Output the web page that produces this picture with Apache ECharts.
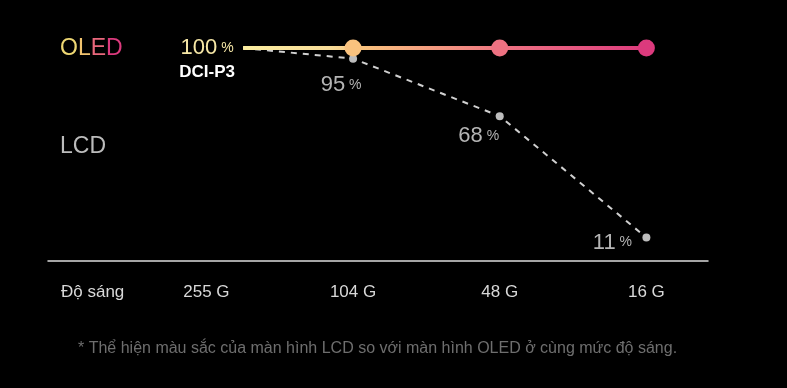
<!DOCTYPE html>
<html><head><meta charset="utf-8">
<script src="https://cdn.jsdelivr.net/npm/echarts@6/dist/echarts.min.js"></script>
<style>html,body{margin:0;padding:0;background:#000}#c{width:787px;height:388px}</style>
</head><body><div id="c"></div>
<script>
// Data
const categories = ['255 G', '104 G', '48 G', '16 G'];
const categoryX = [0, 1, 2, 3];
const pointX = [0.25, 1, 2, 3];            // line starts a quarter step after the 255 G label
const oledValues = [100, 100, 100, 100];
const lcdValues = [100, 95, 68, 11];
const axisTitle = 'Độ sáng';
const footnote = '* Thể hiện màu sắc của màn hình LCD so với màn hình OLED ở cùng mức độ sáng.';

// Styles (kept out of data)
const oledMarkerColors = [null, '#f9c27e', '#ee7282', '#dc3a7d'];
const lcdLabelOffsets = [null, [-12, 26], [-21, 20], [-34, 5]];
const font = 'Liberation Sans, Arial, sans-serif';

const chart = echarts.init(document.getElementById('c'));

const oledData = pointX.map((x, i) => {
  const item = { value: [x, oledValues[i]] };
  if (i === 0) {
    item.symbolSize = 0;
    item.label = {
      show: true, position: 'inside', offset: [-36, 12],
      formatter: '{v|' + oledValues[i] + '}{p| %}\n{d|DCI-P3}',
      rich: {
        v: { fontSize: 22, color: '#f6e7a6', fontFamily: font, lineHeight: 24, align: 'center' },
        p: { fontSize: 14, color: '#f6e7a6', fontFamily: font, lineHeight: 24, align: 'center' },
        d: { fontSize: 17, color: '#ffffff', fontWeight: 'bold', fontFamily: font, lineHeight: 24, align: 'center' }
      }
    };
  } else {
    item.itemStyle = { color: oledMarkerColors[i] };
  }
  return item;
});

const lcdData = pointX.map((x, i) => {
  const item = { value: [x, lcdValues[i]] };
  if (i === 0) {
    item.symbolSize = 0;
  } else {
    item.label = {
      show: true, position: 'inside', offset: lcdLabelOffsets[i],
      formatter: '{v|' + lcdValues[i] + '}{p| %}',
      rich: {
        v: { fontSize: 22, color: '#b4b4b4', fontFamily: font },
        p: { fontSize: 14, color: '#b4b4b4', fontFamily: font }
      }
    };
  }
  return item;
});

chart.setOption({
  backgroundColor: '#000',
  animation: false,
  grid: { left: 48, right: 79, top: 48, bottom: 127 },
  xAxis: {
    type: 'value', min: -1.08, max: 3.42,
    splitLine: { show: false },
    axisLine: { show: true, onZero: false, lineStyle: { color: '#dcdcdc', width: 1.5 } },
    axisTick: { show: false },
    axisLabel: {
      customValues: categoryX,
      formatter: v => categories[Math.round(v)] || '',
      color: '#d8d8d8', fontSize: 17, fontFamily: font, margin: 23
    }
  },
  yAxis: {
    type: 'value', min: 0, max: 100, show: false, splitLine: { show: false }
  },
  series: [
    {
      type: 'line', data: lcdData, z: 2, clip: false,
      symbol: 'circle', symbolSize: 8,
      itemStyle: { color: '#bdbdbd' },
      lineStyle: { color: '#d0d0d0', width: 2, type: [6, 6] }
    },
    {
      type: 'line', data: oledData, z: 3, clip: false,
      symbol: 'circle', symbolSize: 17,
      lineStyle: {
        width: 4,
        color: new echarts.graphic.LinearGradient(0, 0, 1, 0, [
          { offset: 0, color: '#fbeea0' },
          { offset: 0.22, color: '#f8dc98' },
          { offset: 0.3, color: '#f9c27e' },
          { offset: 0.65, color: '#ee7282' },
          { offset: 1, color: '#dc3a7d' }
        ])
      }
    }
  ],
  graphic: [
    {
      type: 'text', left: 60, top: 37,
      style: {
        text: '{o|O}{l|L}{e|E}{d|D}',
        rich: {
          o: { fontSize: 23, fontFamily: font, fill: '#eed773' },
          l: { fontSize: 23, fontFamily: font, fill: '#f1c36f' },
          e: { fontSize: 23, fontFamily: font, fill: '#e9677c' },
          d: { fontSize: 23, fontFamily: font, fill: '#dc3a7d' }
        }
      }
    },
    {
      type: 'text', left: 60, top: 135,
      style: { text: 'LCD', fontSize: 23, fontFamily: font, fill: '#bcbcbc' }
    },
    {
      type: 'text', left: 61, top: 284,
      style: { text: axisTitle, fontSize: 17, fontFamily: font, fill: '#d8d8d8' }
    },
    {
      type: 'text', left: 78, top: 341,
      style: { text: footnote, fontSize: 16, fontFamily: font, fill: '#6e6e6e' }
    }
  ]
});
</script>
</body></html>
